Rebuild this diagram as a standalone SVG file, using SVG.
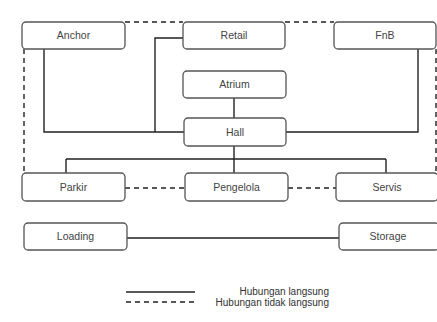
<svg xmlns="http://www.w3.org/2000/svg" width="437" height="322" viewBox="0 0 437 322">
<style>
.box{fill:#fff;stroke:#555;stroke-width:1.3}
.lbl{font-family:"Liberation Sans",Arial,sans-serif;font-size:10.5px;fill:#444;text-anchor:middle}
.leg{font-family:"Liberation Sans",Arial,sans-serif;font-size:10px;fill:#333;text-anchor:end}
.s{fill:none;stroke:#222;stroke-width:1.4}
.d{fill:none;stroke:#222;stroke-width:1.4;stroke-dasharray:5,4}
</style>
<rect width="437" height="322" fill="#fff"/>
<g id="connectors">
<path class="d" d="M125,22H183M285,22H334M24,49V173M436,49V173M125,188H185M288,188H336"/>
<path class="s" d="M44,49V132H184M155,132V38H183M418,49V132H286M234,98V118M234,146V159M66,159H386M66,159V173M234,159V173M386,159V173M127,238H339"/>
</g>
<g id="anchor"><rect class="box" x="22" y="22" width="103" height="27" rx="4"/><text class="lbl" x="73.5" y="39">Anchor</text></g>
<g id="retail"><rect class="box" x="183" y="22" width="102" height="27" rx="4"/><text class="lbl" x="234" y="39">Retail</text></g>
<g id="fnb"><rect class="box" x="334" y="22" width="102" height="27" rx="4"/><text class="lbl" x="385" y="39">FnB</text></g>
<g id="atrium"><rect class="box" x="183" y="71" width="103" height="27" rx="4"/><text class="lbl" x="234.5" y="88">Atrium</text></g>
<g id="hall"><rect class="box" x="184" y="118" width="102" height="28" rx="4"/><text class="lbl" x="235" y="135.5">Hall</text></g>
<g id="parkir"><rect class="box" x="22" y="173" width="103" height="28" rx="4"/><text class="lbl" x="73.5" y="190.5">Parkir</text></g>
<g id="pengelola"><rect class="box" x="185" y="173" width="103" height="28" rx="4"/><text class="lbl" x="236.5" y="190.5">Pengelola</text></g>
<g id="servis"><rect class="box" x="336" y="173" width="102" height="28" rx="4"/><text class="lbl" x="387" y="190.5">Servis</text></g>
<g id="loading"><rect class="box" x="24" y="223" width="103" height="27" rx="4"/><text class="lbl" x="75.5" y="240">Loading</text></g>
<g id="storage"><rect class="box" x="339" y="223" width="100" height="27" rx="4"/><text class="lbl" x="388" y="240">Storage</text></g>
<g id="legend">
<line class="s" x1="126" y1="292" x2="195" y2="292"/>
<line class="d" x1="126" y1="302" x2="197" y2="302"/>
<text class="leg" x="329" y="295">Hubungan langsung</text>
<text class="leg" x="329" y="306">Hubungan tidak langsung</text>
</g>
</svg>
